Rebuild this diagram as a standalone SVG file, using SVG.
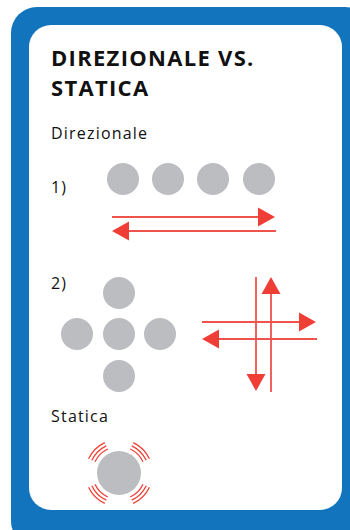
<svg xmlns="http://www.w3.org/2000/svg" width="350" height="530" viewBox="0 0 350 530">
  <defs>
    <style>
      .title { font-family: "Open Sans", "Liberation Sans", sans-serif; font-weight: 700; font-size: 22px; letter-spacing: 1.3px; fill: #111; }
      .label { font-family: "Open Sans", "Liberation Sans", sans-serif; font-size: 16px; letter-spacing: 1.2px; fill: #111; }
      .dot { fill: #bcbdc0; }
      .line { stroke: #f0524c; stroke-width: 1.8; fill: none; }
      .head { fill: #ee3e36; }
      .ring { stroke: #ef4136; stroke-width: 1.3; fill: none; }
    </style>
  </defs>

  <!-- card -->
  <rect x="11" y="7" width="360" height="540" rx="26" fill="#1174bd"/>
  <rect x="29" y="25" width="313" height="485" rx="22" fill="#ffffff"/>

  <text class="title" x="51" y="66">DIREZIONALE VS.</text>
  <text class="title" x="51" y="96">STATICA</text>

  <text class="label" x="51" y="139">Direzionale</text>
  <text class="label" x="51" y="193">1)</text>
  <text class="label" x="51" y="289">2)</text>
  <text class="label" x="51" y="422">Statica</text>

  <!-- 1) row of dots -->
  <g id="row">
    <circle class="dot" cx="123" cy="179" r="16"/>
    <circle class="dot" cx="168" cy="179" r="16"/>
    <circle class="dot" cx="213" cy="179" r="16"/>
    <circle class="dot" cx="259" cy="179" r="16"/>
  </g>

  <!-- 1) two-way arrows -->
  <g id="arrows-1">
    <line class="line" x1="112" y1="217" x2="260" y2="217"/>
    <polygon class="head" points="258,207.5 275,217 258,226.5"/>
    <line class="line" x1="127" y1="231" x2="276" y2="231"/>
    <polygon class="head" points="129,221.5 112,231 129,240.5"/>
  </g>

  <!-- 2) cross of dots -->
  <g id="cross">
    <circle class="dot" cx="119" cy="293" r="16"/>
    <circle class="dot" cx="77" cy="334" r="16"/>
    <circle class="dot" cx="119" cy="334" r="16"/>
    <circle class="dot" cx="160" cy="334" r="16"/>
    <circle class="dot" cx="119" cy="376" r="16"/>
  </g>

  <!-- 2) four-way arrows -->
  <g id="arrows-2">
    <line class="line" x1="202" y1="322" x2="300" y2="322"/>
    <polygon class="head" points="299,312.5 316,322 299,331.5"/>
    <line class="line" x1="217" y1="339" x2="317" y2="339"/>
    <polygon class="head" points="219,329.5 202,339 219,348.5"/>
    <line class="line" x1="256" y1="277" x2="256" y2="376"/>
    <polygon class="head" points="246.5,374 256,391 265.5,374"/>
    <line class="line" x1="271" y1="292" x2="271" y2="392"/>
    <polygon class="head" points="261.5,294 271,277 280.5,294"/>
  </g>

  <!-- static dot with vibration marks -->
  <g id="static">
    <circle class="dot" cx="119" cy="473" r="22"/>
    <g transform="translate(119 473)">
      <g id="marks">
        <path class="ring" d="M -24.0 -11.2 A 26.5 26.5 0 0 1 -11.2 -24.0"/>
        <path class="ring" d="M -27.2 -12.7 A 30 30 0 0 1 -12.7 -27.2"/>
        <path class="ring" d="M -30.4 -14.2 A 33.5 33.5 0 0 1 -14.2 -30.4"/>
      </g>
      <use href="#marks" transform="scale(-1 1)"/>
      <use href="#marks" transform="scale(1 -1)"/>
      <use href="#marks" transform="scale(-1 -1)"/>
    </g>
  </g>
</svg>
